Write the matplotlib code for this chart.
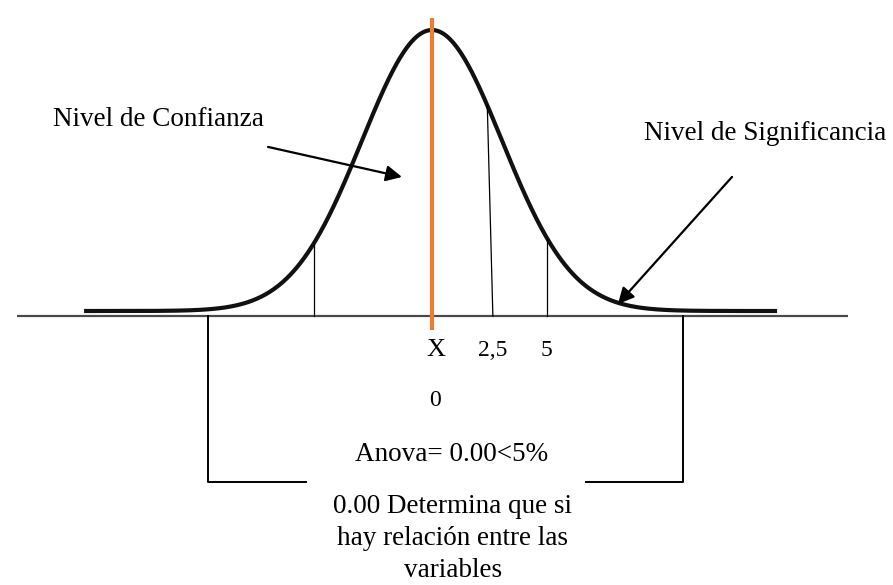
import numpy as np
import matplotlib
matplotlib.use("Agg")
import matplotlib.pyplot as plt

plt.rcParams["font.family"] = ["Liberation Serif", "DejaVu Serif"]

# curve in standard units (mean 0, sd 1), height scaled so the peak is 1
curve_x = np.linspace(-4.97, 4.93, 600)
curve_y = np.exp(-curve_x ** 2 / 2)

# vertical marks under the curve: top and foot positions
mark_top_x = [-1.69, 0.79, 1.64]
mark_foot_x = [-1.69, 0.87, 1.64]

tick_labels = ["X", "2,5", "5"]
tick_x = [0.06, 0.87, 1.64]

label_conf = "Nivel de Confianza"
label_sig = "Nivel de Significancia"
anova_text = "Anova= 0.00<5%"
conclusion = "0.00 Determina que si\nhay relación entre las\nvariables"

bracket_x = [-3.2, 3.586]
bracket_gap = [-1.8, 2.2]
bracket_bottom = -0.609
axis_y = -0.018

fig = plt.figure(figsize=(8.93, 5.85), dpi=100)
ax = fig.add_axes([0, 0, 1, 1])
ax.set_xlim(-6.171, 6.586)
ax.set_ylim(-0.9751, 1.1068)
ax.axis("off")

# horizontal axis
ax.plot([-5.93, 5.94], [axis_y, axis_y], color="#4a4a4a", lw=1.6, solid_capstyle="butt")

# normal curve
ax.plot(curve_x, curve_y, color="#111111", lw=3.0, solid_capstyle="butt")

# thin vertical marks
for xt, xf in zip(mark_top_x, mark_foot_x):
    ax.plot([xt, xf], [np.exp(-xt ** 2 / 2), axis_y], color="black", lw=0.9)

# mean line
ax.plot([0, 0], [1.043, -0.068], color="#ED7D31", lw=3.0, solid_capstyle="butt")

# tick labels
for lab, xv in zip(tick_labels, tick_x):
    size = 19 if lab == "X" else 17
    ax.text(xv, -0.14, lab, ha="center", va="center", fontsize=size)
ax.text(0.04, -0.32, "0", ha="center", va="center", fontsize=17)

ax.text(0.286, -0.512, anova_text, ha="center", va="center", fontsize=19.5)
ax.text(0.30, -0.811, conclusion, ha="center", va="center", fontsize=19.5,
        linespacing=1.37)

# bracket
ax.plot([bracket_x[0], bracket_x[0], bracket_gap[0]],
        [axis_y, bracket_bottom, bracket_bottom], color="black", lw=1.4)
ax.plot([bracket_gap[1], bracket_x[1], bracket_x[1]],
        [bracket_bottom, bracket_bottom, axis_y], color="black", lw=1.4)

# labels with arrows
ax.text(-3.907, 0.68, label_conf, ha="center", va="center", fontsize=19.5)
ax.text(4.757, 0.63, label_sig, ha="center", va="center", fontsize=19.5)
arrow = dict(arrowstyle="-|>", color="black", lw=1.6, mutation_scale=24,
             shrinkA=0, shrinkB=0)
ax.annotate("", xy=(-0.429, 0.477), xytext=(-2.343, 0.584), arrowprops=arrow)
ax.annotate("", xy=(2.657, 0.025), xytext=(4.286, 0.477), arrowprops=arrow)

fig.savefig("out.png", dpi=100)
